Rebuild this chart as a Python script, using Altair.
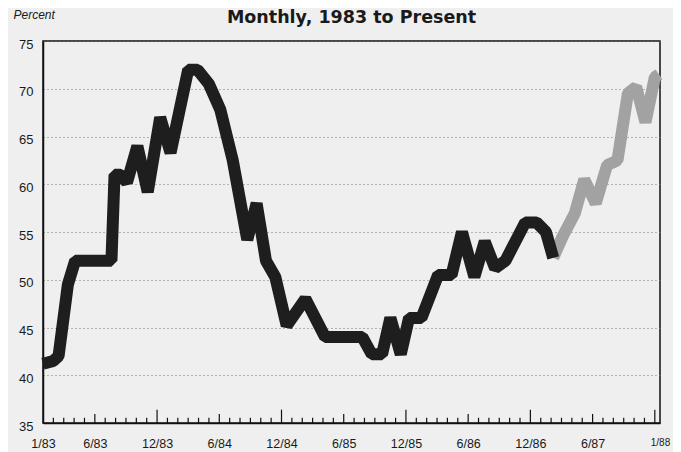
import altair as alt
import pandas as pd

# ---- data (x in months since 1/83) ----
black_month = [0, 1.0, 1.5, 2.4, 3.1, 6.6, 6.9, 7.5, 8.1, 9.1, 10.1, 11.3, 12.3, 14.0, 14.9,
               16.0, 17.1, 18.3, 19.7, 20.6, 21.5, 22.4, 23.5, 25.3, 27.2, 30.8, 31.7, 32.7,
               33.5, 34.5, 35.3, 36.5, 38.1, 39.4, 40.4, 41.6, 42.6, 43.6, 44.6, 46.5, 47.6,
               48.5, 49.2]
black_value = [41.2, 41.5, 42, 49.5, 52, 52, 61, 61, 60.2, 64, 59.2, 67, 63.3, 72, 72,
               70.5, 67.8, 62.5, 54.2, 58, 52, 50.3, 45.2, 48, 44, 44, 42.2, 42.2,
               46, 42.2, 46, 46, 50.5, 50.5, 55, 50.3, 54, 51.2, 52, 56, 56,
               55, 52.3]
gray_month = [49.2, 50.1, 51.3, 52.2, 53.3, 54.4, 55.4, 56.4, 57.2, 58.1, 59.0, 59.4]
gray_value = [52.3, 54.5, 57, 60.5, 58, 62, 62.5, 69.5, 70.2, 66.5, 71.2, 71.5]

tick_months = list(range(1, 60))
label_months = [0, 5, 11, 17, 23, 29, 35, 41, 47, 53, 59.5]
label_text = ["1/83", "6/83", "12/83", "6/84", "12/84", "6/85", "12/85", "6/86",
              "12/86", "6/87", "1/88"]
y_values = [35, 40, 45, 50, 55, 60, 65, 70, 75]

black_df = pd.DataFrame({"m": black_month, "v": black_value})
gray_df = pd.DataFrame({"m": gray_month, "v": gray_value})
tick_df = pd.DataFrame({"m": tick_months})

FONT = "Liberation Sans"

label_expr = "[%s][indexof([%s], datum.value)]" % (
    ",".join("'%s'" % t for t in label_text),
    ",".join(str(v) for v in label_months),
)

xscale = alt.Scale(domain=[0, 59.5], nice=False, zero=False)
yscale = alt.Scale(domain=[35, 75], nice=False, zero=False)

x_axis = alt.Axis(
    values=label_months, labelExpr=label_expr, ticks=False, grid=False,
    domainColor="#111", domainWidth=1.5, labelPadding=14,
    labelFont=FONT, labelColor="#1a1a1a",
    labelFontSize={"condition": {"test": "datum.value > 59", "value": 10}, "value": 12.5},
    labelFlush=False, labelOverlap=False, labelBound=False, title=None,
)
y_axis = alt.Axis(
    values=y_values, ticks=False, grid=True, gridDash=[1, 3], gridColor="#777",
    gridWidth=1, domainColor="#111", domainWidth=1.5,
    labelPadding=10, labelFont=FONT, labelFontSize=13, labelColor="#1a1a1a",
    labelOffset=3, title="Percent", titleAngle=0, titleFont=FONT,
    titleFontStyle="italic", titleFontWeight="normal", titleFontSize=12,
    titleX=-30, titleY=-23, titleAlign="left", titleBaseline="alphabetic",
    titleColor="#1a1a1a",
)

black = alt.Chart(black_df).mark_line(
    color="#1e1e1e", strokeWidth=12, strokeJoin="bevel", strokeCap="butt"
).encode(
    x=alt.X("m:Q", scale=xscale, axis=x_axis),
    y=alt.Y("v:Q", scale=yscale, axis=y_axis),
)

gray = alt.Chart(gray_df).mark_line(
    color="#a2a2a2", strokeWidth=12, strokeJoin="bevel", strokeCap="butt"
).encode(
    x=alt.X("m:Q", scale=xscale),
    y=alt.Y("v:Q", scale=yscale),
)

ticks = alt.Chart(tick_df).transform_calculate(
    base="35",
    top="datum.m % 12 == 11 ? 36.4 : (datum.m % 12 == 5 ? 35.95 : 35.55)",
).mark_rule(color="#111", strokeWidth=1.2).encode(
    x=alt.X("m:Q", scale=xscale),
    y=alt.Y("base:Q", scale=yscale),
    y2="top:Q",
)

chart = alt.layer(gray, black, ticks).properties(
    width=617,
    height=382,
    autosize=alt.AutoSizeParams(type="none"),
    padding={"left": 35, "top": 33, "right": 13, "bottom": 30},
    background="#efefef",
    title=alt.TitleParams(
        "Monthly, 1983 to Present", font="DejaVu Sans", fontSize=17.5,
        fontWeight="bold", anchor="middle", color="#1a1a1a", offset=6, dy=38,
        baseline="alphabetic",
    ),
).configure_view(stroke="#111", strokeWidth=1.5)

chart.save("out.html", embed_options={"renderer": "svg", "actions": False})
